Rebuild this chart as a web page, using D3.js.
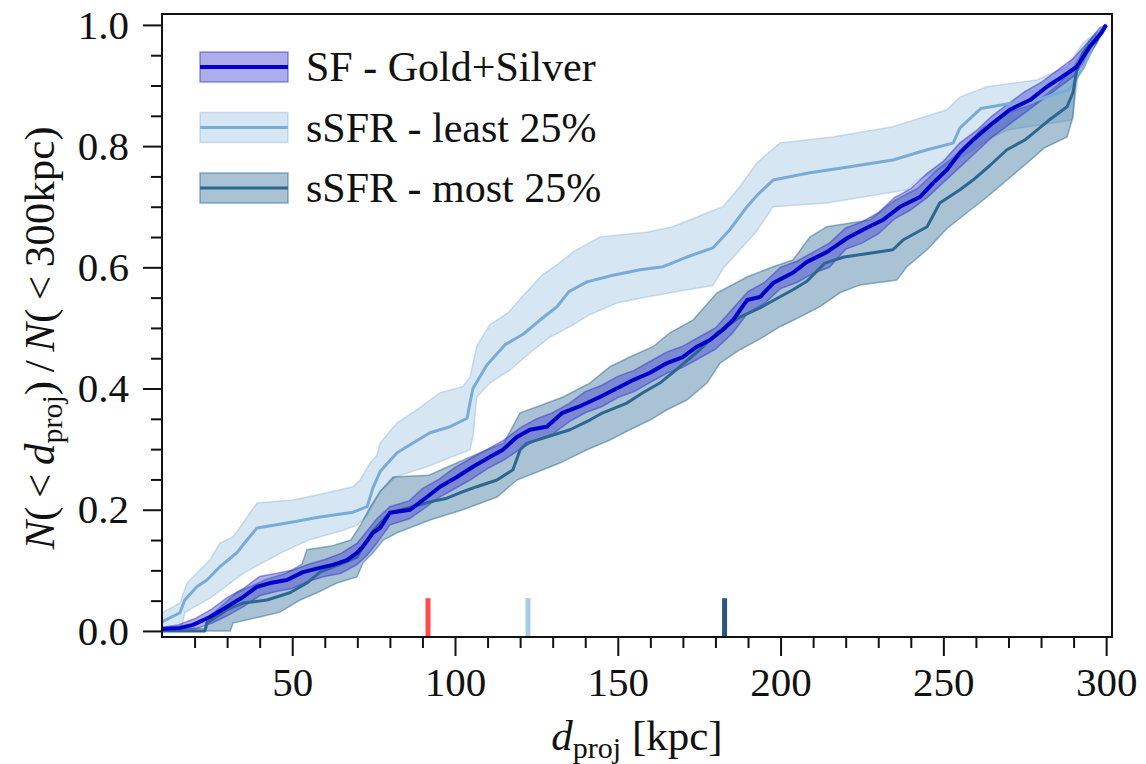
<!DOCTYPE html>
<html>
<head>
<meta charset="utf-8">
<script src="https://cdn.jsdelivr.net/npm/d3@7"></script>
<style>
  body { margin: 0; background: #fff; }
  text { font-family: "Liberation Serif", "DejaVu Serif", serif; fill: #111; }
</style>
</head>
<body>
<svg id="chart" width="1146" height="764"></svg>
<script>
// values: [d_proj (kpc), N(<d)/N(<300)]
var sfMedian = [[10,0.003],[15.5,0.005],[19.5,0.01],[24.7,0.023],[30,0.04],[34.9,0.056],[39.2,0.073],[43.2,0.079],[48.4,0.084],[53.3,0.097],[58.5,0.104],[62.5,0.109],[66.8,0.117],[69.9,0.129],[71.7,0.139],[74.8,0.162],[77,0.17],[80,0.195],[86.2,0.2],[91.4,0.221],[95.4,0.238],[100.6,0.254],[105.5,0.271],[110.7,0.287],[114.7,0.299],[119,0.32],[123,0.332],[128.2,0.337],[133,0.36],[138,0.37],[144.5,0.386],[150.7,0.403],[154.7,0.414],[159.9,0.426],[165.1,0.442],[170,0.452],[174.3,0.469],[178.3,0.48],[182.3,0.497],[185.4,0.513],[189.7,0.546],[193.7,0.551],[197.7,0.574],[203.8,0.591],[208.1,0.609],[214.2,0.625],[220.4,0.648],[225.3,0.662],[231.4,0.678],[236.7,0.7],[242.8,0.716],[246.8,0.739],[251.1,0.761],[255.1,0.789],[259.1,0.81],[265.2,0.838],[270.4,0.86],[276.6,0.876],[281.8,0.898],[285,0.909],[291,0.931],[295,0.964],[298.7,0.988],[300,1.0]];
var sfUpper = [[10,0.006],[15,0.01],[20,0.02],[25,0.035],[30,0.055],[35,0.07],[40,0.09],[45,0.095],[50,0.1],[55,0.11],[60,0.118],[65,0.128],[70,0.145],[73,0.165],[76,0.185],[80,0.205],[86,0.215],[90,0.235],[95,0.25],[100,0.27],[105,0.285],[110,0.3],[115,0.315],[120,0.335],[125,0.35],[130,0.36],[135,0.375],[140,0.395],[145,0.405],[150,0.42],[155,0.43],[160,0.445],[165,0.46],[170,0.47],[175,0.485],[180,0.5],[185,0.53],[190,0.56],[195,0.575],[200,0.6],[205,0.61],[210,0.625],[215,0.64],[220,0.665],[225,0.675],[230,0.69],[235,0.715],[240,0.73],[245,0.755],[250,0.775],[255,0.805],[260,0.825],[265,0.85],[270,0.87],[275,0.89],[280,0.905],[285,0.925],[290,0.945],[295,0.975],[298,0.995],[300,1.0]];
var sfLower = [[10,0.0],[20,0.003],[25,0.012],[30,0.025],[35,0.04],[40,0.058],[45,0.065],[50,0.07],[55,0.082],[60,0.09],[65,0.095],[70,0.11],[73,0.125],[76,0.145],[80,0.175],[86,0.185],[90,0.2],[95,0.22],[100,0.235],[105,0.25],[110,0.268],[115,0.282],[120,0.3],[125,0.315],[130,0.325],[135,0.345],[140,0.36],[145,0.37],[150,0.385],[155,0.395],[160,0.41],[165,0.425],[170,0.435],[175,0.45],[180,0.465],[185,0.49],[190,0.525],[195,0.54],[200,0.565],[205,0.575],[210,0.59],[215,0.6],[220,0.63],[225,0.64],[230,0.655],[235,0.68],[240,0.695],[245,0.715],[250,0.74],[255,0.765],[260,0.79],[265,0.815],[270,0.835],[275,0.855],[280,0.875],[285,0.895],[290,0.915],[295,0.95],[298,0.98],[300,1.0]];

var leastMedian = [[10,0.015],[15.5,0.03],[17,0.051],[20.7,0.073],[23.8,0.084],[27.8,0.106],[33,0.129],[36.1,0.15],[39.2,0.17],[48.4,0.178],[58.5,0.188],[68.7,0.196],[73,0.205],[74.8,0.236],[77,0.263],[82.2,0.294],[87.1,0.31],[92.3,0.327],[98.5,0.337],[103.7,0.351],[104.6,0.376],[105.5,0.4],[109.8,0.439],[115.3,0.472],[121,0.49],[126.1,0.513],[131.3,0.535],[135,0.56],[140.5,0.576],[148.5,0.587],[156.8,0.596],[163.9,0.601],[171.2,0.617],[179.2,0.632],[184.4,0.662],[189.7,0.7],[193,0.72],[197.7,0.744],[209,0.756],[221.3,0.766],[234.5,0.777],[245,0.794],[253,0.805],[255.1,0.83],[261.5,0.862],[271.4,0.871],[278.7,0.876],[288.5,0.893],[293,0.93],[298,0.99],[300,1.0]];
var leastUpper = [[10,0.03],[15.5,0.046],[17.7,0.079],[19.5,0.089],[24.7,0.117],[27.8,0.145],[31.8,0.155],[34.9,0.178],[37,0.195],[39.2,0.211],[50.2,0.216],[60.7,0.228],[68.7,0.238],[70.8,0.249],[73.9,0.277],[76,0.29],[77,0.31],[82.2,0.343],[88.3,0.365],[95.4,0.393],[102.4,0.403],[104.6,0.419],[106.7,0.47],[110.7,0.505],[116.5,0.526],[121.5,0.557],[127,0.588],[131.5,0.605],[136.2,0.625],[144.5,0.65],[158.9,0.658],[166.9,0.667],[174.3,0.683],[182.3,0.7],[187.5,0.733],[192.7,0.772],[199.8,0.805],[216,0.815],[234.5,0.832],[251.1,0.86],[255.1,0.881],[263.4,0.898],[278.7,0.909],[288,0.931],[292.9,0.97],[300,1.0]];
var leastLower = [[10,0.0],[16,0.005],[17,0.03],[20,0.04],[25,0.055],[30,0.075],[35,0.095],[40,0.11],[47,0.13],[55,0.15],[65,0.165],[70,0.175],[73,0.19],[77,0.23],[82,0.255],[88,0.265],[91.4,0.271],[104.6,0.299],[105.5,0.32],[106.7,0.386],[110.7,0.409],[117,0.431],[123,0.459],[129.2,0.485],[135.3,0.502],[141.4,0.522],[149.7,0.541],[158.9,0.551],[169.1,0.561],[179.2,0.57],[182.3,0.598],[187.5,0.629],[192.7,0.66],[197.7,0.7],[214.2,0.706],[238.8,0.728],[241.9,0.744],[250,0.765],[258,0.79],[265,0.815],[270,0.827],[289.5,0.843],[292,0.937],[300,1.0]];

var mostMedian = [[10,0],[23.2,0],[23.8,0.013],[30,0.035],[34.9,0.046],[42.2,0.051],[49.3,0.063],[54.5,0.079],[58.5,0.097],[65.6,0.112],[69.9,0.122],[73,0.15],[74.8,0.165],[80,0.195],[87.1,0.205],[92.3,0.213],[97.5,0.219],[101.5,0.228],[106.7,0.238],[112.9,0.249],[117.8,0.266],[120,0.299],[122.1,0.31],[128.2,0.32],[135.3,0.332],[141.4,0.348],[145.4,0.36],[152.8,0.376],[157.7,0.393],[162.9,0.409],[169.1,0.436],[175.2,0.464],[180.5,0.492],[187.5,0.518],[193.7,0.533],[199,0.549],[203.8,0.563],[208.1,0.577],[213.6,0.607],[219.5,0.617],[228.4,0.624],[234.5,0.629],[237.6,0.645],[245,0.667],[248.9,0.706],[255.1,0.728],[259.1,0.744],[264.3,0.768],[269.5,0.794],[275,0.81],[282.5,0.843],[288,0.865],[289.8,0.888],[291,0.926],[292.9,0.954],[297.2,0.98],[300,1.0]];
var mostUpper = [[10,0.003],[23,0.005],[23.8,0.018],[26.9,0.035],[33,0.063],[37,0.073],[42,0.085],[48,0.095],[53,0.11],[54.5,0.134],[62,0.14],[68,0.15],[71,0.175],[74,0.205],[77,0.23],[81,0.254],[92,0.257],[97.5,0.27],[107.7,0.294],[115,0.31],[120,0.36],[125.2,0.37],[133.2,0.386],[141.4,0.409],[147.6,0.436],[153.7,0.452],[160.8,0.469],[166,0.492],[173.1,0.513],[180.5,0.558],[189.7,0.584],[197.7,0.601],[203.8,0.612],[209,0.65],[214.2,0.667],[227.4,0.678],[235,0.71],[242,0.73],[248,0.76],[255,0.79],[262,0.83],[270,0.855],[278,0.87],[285,0.9],[290,0.93],[295,0.975],[300,1.0]];
var mostLower = [[10,0],[31,0],[31.8,0.013],[40,0.023],[46.2,0.031],[52.4,0.051],[57.6,0.063],[63.7,0.079],[69.9,0.089],[71.7,0.112],[74.8,0.129],[78,0.15],[82.2,0.162],[92.3,0.183],[102.4,0.2],[112.9,0.221],[119,0.249],[127,0.266],[132.2,0.277],[140.5,0.299],[147.6,0.315],[153.7,0.332],[159.9,0.348],[165.1,0.365],[171.2,0.381],[177.4,0.409],[181.4,0.442],[187.5,0.464],[193.7,0.482],[199.8,0.502],[205.9,0.518],[212.1,0.535],[218.2,0.558],[224.4,0.571],[235.7,0.579],[238.8,0.601],[245,0.629],[251.1,0.664],[257.2,0.69],[263.4,0.716],[269.5,0.744],[275.7,0.772],[281,0.797],[288,0.815],[289.8,0.848],[291,0.926],[297.2,0.97],[300,1.0]];

// median d_proj of each sample, drawn as short marks on the x axis
var medianNames = ["SF", "least", "most"];
var medianValues = [91.7, 122.4, 182.8];

var legendLabels = ["SF - Gold+Silver", "sSFR - least 25%", "sSFR - most 25%"];
var xMajorTicks = [50, 100, 150, 200, 250, 300];
var yMajorTicks = [0, 0.2, 0.4, 0.6, 0.8, 1.0];

var svg = d3.select("#chart");
var margin = { top: 14, left: 162, right: 34, bottom: 127 };
var width = 1146 - margin.left - margin.right;
var height = 764 - margin.top - margin.bottom;

var xScale = d3.scaleLinear().domain([10, 301.8]).range([0, width]);
var yScale = d3.scaleLinear().domain([-0.01, 1.018]).range([height, 0]);

var plot = svg.append("g").attr("transform", `translate(${margin.left},${margin.top})`);

plot.append("clipPath").attr("id", "clip")
  .append("rect").attr("width", width).attr("height", height);

var series = [
  { key: "least", med: leastMedian, hi: leastUpper, lo: leastLower, line: "#78acd6", fill: "#8fb9dd", op: 0.36 },
  { key: "most", med: mostMedian, hi: mostUpper, lo: mostLower, line: "#2b6792", fill: "#2b6a94", op: 0.4 },
  { key: "SF", med: sfMedian, hi: sfUpper, lo: sfLower, line: "#0000cc", fill: "#3333cc", op: 0.4 }
];
var markColor = { SF: "#ff4b4b", least: "#a8cbe8", most: "#29577e" };

var line = d3.line().x(d => xScale(d[0])).y(d => yScale(d[1]));

var layer = plot.append("g").attr("clip-path", "url(#clip)");

// shaded bands first
series.forEach(function (s) {
  var pts = s.hi.concat(s.lo.slice().reverse());
  layer.append("path")
    .attr("d", line(pts) + "Z")
    .attr("fill", s.fill)
    .attr("fill-opacity", s.op)
    .attr("stroke", s.fill)
    .attr("stroke-opacity", s.op + 0.1)
    .attr("stroke-width", 1.5);
});

// then the median curves
series.forEach(function (s) {
  layer.append("path")
    .attr("d", line(s.med))
    .attr("fill", "none")
    .attr("stroke", s.line)
    .attr("stroke-width", s.key === "SF" ? 4 : 3)
    .attr("stroke-linejoin", "round");
});

// median markers on the bottom
layer.selectAll(".median-mark")
  .data(medianNames)
  .join("line")
  .attr("class", "median-mark")
  .attr("x1", (d, i) => xScale(medianValues[i]))
  .attr("x2", (d, i) => xScale(medianValues[i]))
  .attr("y1", yScale(-0.01))
  .attr("y2", yScale(0.054))
  .attr("stroke", d => markColor[d])
  .attr("stroke-width", 5);

// axes
var xMajor = d3.axisBottom(xScale).tickValues(xMajorTicks).tickSize(19).tickPadding(11).tickFormat(d3.format("d"));
var xMinor = d3.axisBottom(xScale).tickValues(d3.range(20, 300, 10).filter(v => v % 50 !== 0)).tickSize(11).tickFormat("");
var yMajor = d3.axisLeft(yScale).tickValues(yMajorTicks).tickSize(19).tickPadding(14).tickFormat(d3.format(".1f"));
var yMinor = d3.axisLeft(yScale).tickValues(d3.range(0.05, 1, 0.05).filter((v, i) => (i + 1) % 4 !== 0)).tickSize(11).tickFormat("");

[[xMajor, "x"], [xMinor, "x"], [yMajor, "y"], [yMinor, "y"]].forEach(function (a) {
  var g = plot.append("g");
  if (a[1] === "x") g.attr("transform", `translate(0,${height})`);
  g.call(a[0]);
  g.select(".domain").remove();
  g.selectAll(".tick line").attr("stroke", "#111").attr("stroke-width", 2);
  g.selectAll(".tick text").attr("font-size", 41).attr("fill", "#111")
    .style("font-family", '"Liberation Serif", "DejaVu Serif", serif');
});

// frame
plot.append("rect")
  .attr("width", width).attr("height", height)
  .attr("fill", "none").attr("stroke", "#111").attr("stroke-width", 2);

// legend
var legend = plot.append("g").attr("transform", "translate(38,53)");
var legendSeries = [series[2], series[0], series[1]];
legendSeries.forEach(function (s, i) {
  var row = legend.append("g").attr("transform", `translate(0,${i * 60.5})`);
  row.append("rect")
    .attr("x", 0).attr("y", -15).attr("width", 88).attr("height", 30)
    .attr("fill", s.fill).attr("fill-opacity", s.op)
    .attr("stroke", s.fill).attr("stroke-opacity", s.op + 0.1).attr("stroke-width", 1.5);
  row.append("line")
    .attr("x1", 0).attr("x2", 88)
    .attr("stroke", s.line).attr("stroke-width", s.key === "SF" ? 4 : 3);
  row.append("text")
    .attr("x", 106).attr("y", 14)
    .attr("font-size", 42)
    .text(legendLabels[i]);
});

// x label
var xl = svg.append("text")
  .attr("x", margin.left + width / 2)
  .attr("y", 750)
  .attr("text-anchor", "middle")
  .attr("font-size", 43);
xl.append("tspan").attr("font-style", "italic").text("d");
xl.append("tspan").attr("font-size", 30).attr("dy", 8).text("proj");
xl.append("tspan").attr("dy", -8).text(" [kpc]");

// y label
var yl = svg.append("text")
  .attr("transform", "translate(54,338) rotate(-90)")
  .attr("text-anchor", "middle")
  .attr("font-size", 43);
yl.append("tspan").attr("font-style", "italic").text("N");
yl.append("tspan").text("(\u2009<\u2009");
yl.append("tspan").attr("font-style", "italic").text("d");
yl.append("tspan").attr("font-size", 30).attr("dy", 8).text("proj");
yl.append("tspan").attr("dy", -8).text(")\u2009/\u2009");
yl.append("tspan").attr("font-style", "italic").text("N");
yl.append("tspan").text("(\u2009<\u2009300kpc)");
</script>
</body>
</html>
